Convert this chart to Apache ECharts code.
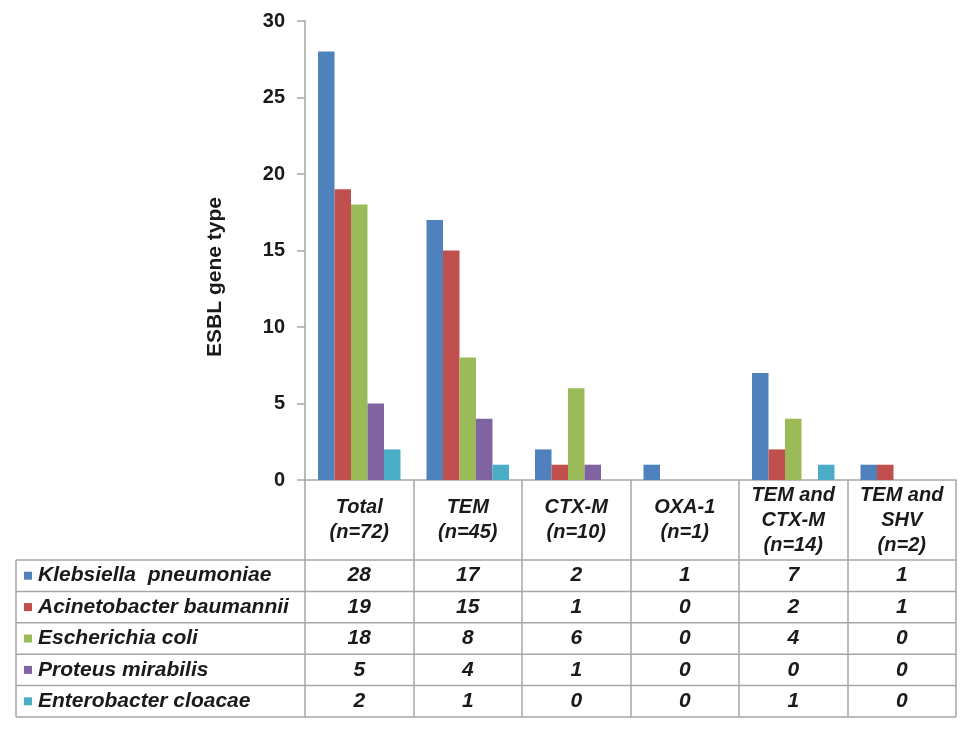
<!DOCTYPE html>
<html><head><meta charset="utf-8">
<script src="https://cdn.jsdelivr.net/npm/echarts@6/dist/echarts.min.js"></script>
<style>html,body{margin:0;padding:0;background:#fff}#c{width:969px;height:730px}</style>
</head><body><div id="c"></div>
<script>
const categories = ["Total\n(n=72)", "TEM\n(n=45)", "CTX-M\n(n=10)", "OXA-1\n(n=1)", "TEM and\nCTX-M\n(n=14)", "TEM and\nSHV\n(n=2)"];
const seriesNames = ["Klebsiella  pneumoniae", "Acinetobacter baumannii", "Escherichia coli", "Proteus mirabilis", "Enterobacter cloacae"];
const klebsiella = [28, 17, 2, 1, 7, 1];
const acinetobacter = [19, 15, 1, 0, 2, 1];
const escherichia = [18, 8, 6, 0, 4, 0];
const proteus = [5, 4, 1, 0, 0, 0];
const enterobacter = [2, 1, 0, 0, 1, 0];
const yTicks = { min: 0, max: 30, interval: 5 };
const yName = "ESBL gene type";

const allData = [klebsiella, acinetobacter, escherichia, proteus, enterobacter];
const colors = ["#4F81BD", "#C0504D", "#9BBB59", "#8064A2", "#4BACC6"];
const FONT = "Liberation Sans, Arial, sans-serif";
const gridLine = "#A6A6A6";

const chart = echarts.init(document.getElementById('c'));
const headerH = 80, rowH = 31.4, tableLeft = 16;

chart.setOption({
  animation: false,
  grid: { left: 305, right: 13, top: 21, bottom: 250, containLabel: false },
  xAxis: {
    type: 'category', data: categories,
    axisLine: { lineStyle: { color: gridLine, width: 1.5 } },
    axisTick: { show: true, interval: 0, length: headerH + rowH * 5, lineStyle: { color: gridLine, width: 1.5 } },
    axisLabel: { interval: 0, margin: 40, verticalAlign: 'middle', lineHeight: 25,
      fontFamily: FONT, fontWeight: 'bold', fontStyle: 'italic', fontSize: 20, color: '#1a1a1a' }
  },
  yAxis: {
    type: 'value', min: yTicks.min, max: yTicks.max, interval: yTicks.interval,
    axisLine: { show: true, lineStyle: { color: gridLine, width: 1.5 } },
    axisTick: { show: true, length: 8, lineStyle: { color: gridLine, width: 1.5 } },
    splitLine: { show: false },
    axisLabel: { margin: 20, fontFamily: FONT, fontWeight: 'bold', fontSize: 20, color: '#1a1a1a' }
  },
  series: allData.map((d, i) => ({
    name: seriesNames[i], type: 'bar', data: d, barGap: '0%', barCategoryGap: '24%',
    itemStyle: { color: colors[i] }
  }))
});

// Build the data table below the axis from the same arrays
const y0 = chart.convertToPixel({ yAxisIndex: 0 }, 0);
const c0 = chart.convertToPixel({ xAxisIndex: 0 }, 0);
const c1 = chart.convertToPixel({ xAxisIndex: 0 }, 1);
const band = c1 - c0;
const plotRight = chart.convertToPixel({ xAxisIndex: 0 }, categories.length - 1) + band / 2;
const rowTop = y0 + headerH;
const g = [];
const lineStyle = { stroke: gridLine, lineWidth: 1.5 };
for (let r = 0; r <= seriesNames.length; r++) {
  const y = rowTop + r * rowH;
  g.push({ type: 'line', shape: { x1: tableLeft, y1: y, x2: plotRight, y2: y }, style: lineStyle, silent: true });
}
g.push({ type: 'line', shape: { x1: tableLeft, y1: rowTop, x2: tableLeft, y2: rowTop + rowH * seriesNames.length }, style: lineStyle });
// y-axis title
g.push({ type: 'text', x: 215, y: 277, rotation: Math.PI / 2,
  style: { text: yName, fontFamily: FONT, fontWeight: 'bold', fontSize: 21, fill: '#1a1a1a', align: 'center', verticalAlign: 'middle' } });
seriesNames.forEach((n, r) => {
  const cy = rowTop + r * rowH + rowH / 2;
  g.push({ type: 'rect', shape: { x: 24, y: cy - 4, width: 8, height: 8 }, style: { fill: colors[r] } });
  g.push({ type: 'text', x: 38, y: cy, style: { text: n, fontFamily: FONT, fontWeight: 'bold', fontStyle: 'italic', fontSize: 21, fill: '#1a1a1a', verticalAlign: 'middle', align: 'left' } });
  allData[r].forEach((v, c) => {
    const cx = chart.convertToPixel({ xAxisIndex: 0 }, c);
    g.push({ type: 'text', x: cx, y: cy, style: { text: String(v), fontFamily: FONT, fontWeight: 'bold', fontStyle: 'italic', fontSize: 21, fill: '#1a1a1a', verticalAlign: 'middle', align: 'center' } });
  });
});
chart.setOption({ graphic: g });
</script></body></html>
